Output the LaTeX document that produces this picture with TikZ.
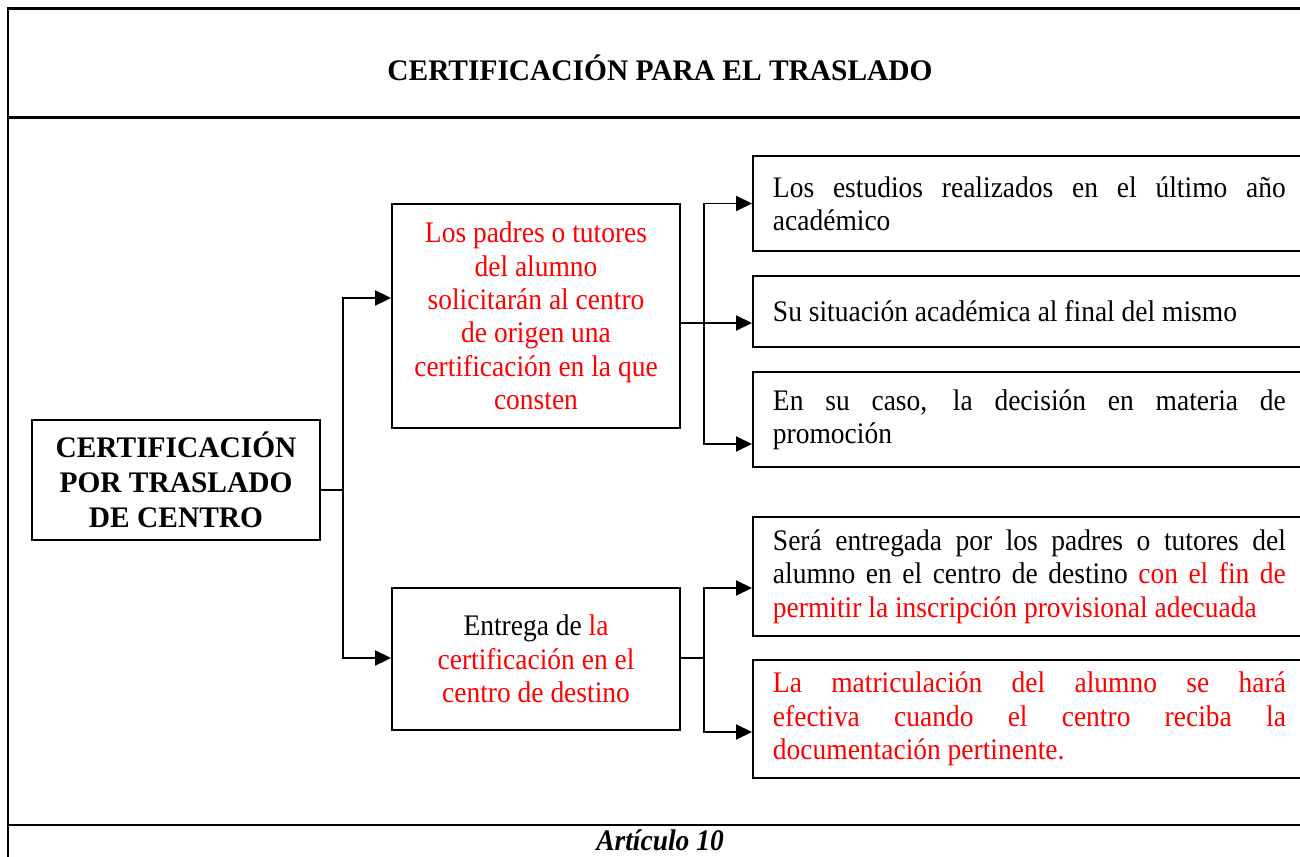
\documentclass[tikz,border=0pt]{standalone}
\usepackage{fontspec}
\setmainfont{Liberation Serif}[FakeStretch=0.92, BoldFeatures={FakeStretch=0.985}]
\usetikzlibrary{arrows.meta,positioning}
\newcommand{\diagfont}{\fontsize{17}{19}\selectfont}

\begin{document}
\begin{tikzpicture}[x=0.02cm, y=-0.02cm,
  every node/.style={font=\diagfont},
  frame/.style={line width=1.7pt},
  box/.style={draw, line width=1.1pt, inner sep=0pt, align=center, minimum width=5.76cm},
  rbox/.style={draw, line width=1.1pt, anchor=west, inner xsep=0.4cm, inner ysep=0pt,
    text width=10.26cm, align=justify},
  conn/.style={line width=1.1pt},
  arr/.style={conn, -{Triangle[length=0.32cm, width=0.3cm]}}]

\clip (0,0) rectangle (1300,857);

% outer frame of the table
\draw[frame] (8,880) -- (8,9) -- (1320,9);
\draw[frame] (8,118) -- (1320,118);
\draw[frame] (8,825) -- (1320,825);
\node[font=\diagfont\bfseries] (title) at (660,68) {CERTIFICACIÓN PARA EL TRASLADO};
\node[font=\diagfont\bfseries\itshape] (art) at (660,840) {Artículo 10};

% main box and the two steps
\node[box, minimum height=2.4cm, font=\fontsize{17}{20}\selectfont\bfseries] (cert) at (176,480)
  {CERTIFICACIÓN\\POR TRASLADO\\DE CENTRO};
\node[box, minimum height=4.48cm, text=red] (pad) at (536,316)
  {Los padres o tutores\\del alumno\\solicitarán al centro\\de origen una\\certificación en la que\\consten};
\node[box, minimum height=2.84cm] (ent) at (536,659)
  {Entrega de \textcolor{red}{la}\\\textcolor{red}{certificación en el}\\\textcolor{red}{centro de destino}};

% contents of the certification
\node[rbox, minimum height=1.9cm] (ra) at (752,203.5)
  {Los estudios realizados en el último año\linebreak académico};
\node[rbox, minimum height=1.42cm] (rb) at (752,311.5)
  {Su situación académica al final del mismo};
\node[rbox, minimum height=1.9cm] (rc) at (752,419.5)
  {En su caso, la decisión en materia de\linebreak promoción};

% handing over at the new school
\node[rbox, minimum height=2.38cm] (rd) at (752,576.5)
  {Será entregada por los padres o tutores del\linebreak alumno en el centro de destino
   \textcolor{red}{con el fin de\linebreak permitir la inscripción provisional adecuada}};
\node[rbox, minimum height=2.36cm, text=red] (re) at (752,719)
  {La matriculación del alumno se hará\linebreak efectiva cuando el centro reciba la\linebreak documentación pertinente.};

% connectors
\coordinate (j0) at (343,490);
\draw[conn] (cert.east |- j0) -- (j0);
\draw[arr] (j0) |- (pad.west |- 0,298);
\draw[arr] (j0) |- (ent.west |- 0,658);

\coordinate (j1) at (704,323);
\draw[arr] (pad.east |- j1) -- (rb.west |- j1);
\draw[arr] (j1) |- (ra.west);
\draw[arr] (j1) |- (rc.west |- 0,444);

\coordinate (j2) at (704,658);
\draw[conn] (ent.east |- j2) -- (j2);
\draw[arr] (j2) |- (rd.west |- 0,588);
\draw[arr] (j2) |- (re.west |- 0,732);

\end{tikzpicture}
\end{document}
